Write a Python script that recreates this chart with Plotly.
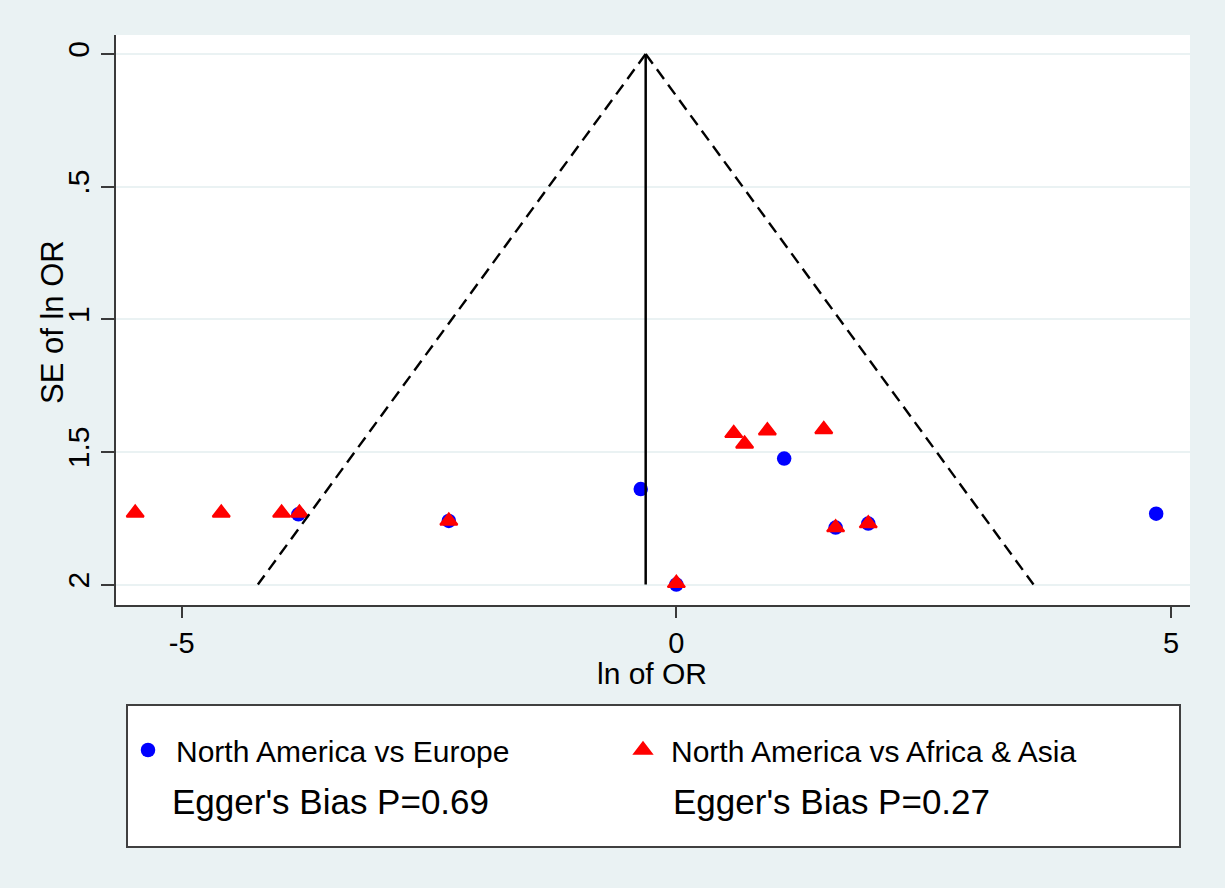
import plotly.graph_objects as go

# ---- data ----
europe_x = [-3.82, -2.30, -0.36, 0.00, 1.09, 1.61, 1.94, 4.85]
europe_se = [1.735, 1.76, 1.64, 2.00, 1.525, 1.785, 1.77, 1.733]

afas_x = [-5.47, -4.60, -3.99, -3.81, -2.30, 0.00, 0.58, 0.69, 0.92, 1.49, 1.61, 1.94]
afas_se = [1.73, 1.73, 1.73, 1.73, 1.76, 1.995, 1.43, 1.47, 1.42, 1.415, 1.785, 1.77]

pooled_x = [-0.31, -0.31]
pooled_se = [0.0, 2.0]
funnel_left_x = [-0.31, -4.23]
funnel_right_x = [-0.31, 3.61]
funnel_se = [0.0, 2.0]

x_tickvals = [-5, 0, 5]
x_ticktext = ["-5", "0", "5"]
y_tickvals = [0, 0.5, 1, 1.5, 2]
y_ticktext = ["0", ".5", "1", "1.5", "2"]

series_names = ["North America vs Europe", "North America vs Africa & Asia"]
egger_texts = ["Egger's Bias P=0.69", "Egger's Bias P=0.27"]

FONT = "Liberation Sans, Arial, sans-serif"
BG = "#EAF2F3"

fig = go.Figure()
fig.add_trace(go.Scatter(x=europe_x, y=europe_se, mode="markers", name=series_names[0],
                         marker=dict(symbol="circle", size=14.5, color="#0000FF")))
fig.add_trace(go.Scatter(x=afas_x, y=afas_se, mode="markers", name=series_names[1],
                         marker=dict(symbol="triangle-up", size=15, color="#FF0000",
                                     line=dict(color="#FF0000", width=2))))
for fx in (funnel_left_x, funnel_right_x):
    fig.add_trace(go.Scatter(x=fx, y=funnel_se, mode="lines", showlegend=False, hoverinfo="skip",
                             line=dict(color="black", width=2.4, dash="12px,7px")))
fig.add_trace(go.Scatter(x=pooled_x, y=pooled_se, mode="lines", showlegend=False, hoverinfo="skip",
                         line=dict(color="black", width=2.5)))

L, R, T, B = 116, 35, 35, 283
PW, PH = 1225 - L - R, 888 - T - B

def px(x):
    return (x - L) / PW

def py(y):
    return (888 - B - y) / PH

fig.update_layout(
    width=1225, height=888,
    margin=dict(l=L, r=R, t=T, b=B),
    paper_bgcolor=BG, plot_bgcolor="white",
    font=dict(family=FONT, color="black", size=29),
    xaxis=dict(range=[-5.664, 5.192], tickvals=x_tickvals, ticktext=x_ticktext,
               showgrid=False, zeroline=False, showline=True, linecolor="#3a3a3a", linewidth=1.5,
               ticks="outside", ticklen=11, tickwidth=1.5, tickcolor="#3a3a3a",
               tickfont=dict(size=29)),
    yaxis=dict(range=[2.077, -0.0716], tickvals=y_tickvals, ticktext=y_ticktext,
               showgrid=True, gridcolor=BG, gridwidth=2, zeroline=False,
               showline=True, linecolor="#3a3a3a", linewidth=1.5,
               ticks="outside", ticklen=13, tickwidth=1.5, tickcolor="#3a3a3a",
               tickangle=-90, tickfont=dict(size=30)),
    showlegend=True,
    legend=dict(orientation="h", x=px(120), xanchor="left", y=py(750), yanchor="middle",
                bgcolor="rgba(0,0,0,0)", borderwidth=0, itemwidth=46,
                entrywidth=434, entrywidthmode="pixels",
                font=dict(size=30, color="black"), traceorder="normal"),
    shapes=[dict(type="rect", xref="paper", yref="paper",
                 x0=px(127), x1=px(1180), y0=py(847), y1=py(705),
                 line=dict(color="#404040", width=2), fillcolor="white", layer="below")],
    annotations=[
        dict(text="ln of OR", xref="paper", yref="paper", x=px(652), y=py(673),
             xanchor="center", yanchor="middle", showarrow=False, font=dict(size=30)),
        dict(text="SE of ln OR", xref="paper", yref="paper", x=px(52), y=py(322),
             xanchor="center", yanchor="middle", showarrow=False, textangle=-90,
             font=dict(size=31)),
        dict(text=egger_texts[0], xref="paper", yref="paper", x=px(170), y=py(801),
             xanchor="left", yanchor="middle", showarrow=False, font=dict(size=35)),
        dict(text=egger_texts[1], xref="paper", yref="paper", x=px(671), y=py(801),
             xanchor="left", yanchor="middle", showarrow=False, font=dict(size=35)),
    ],
)

fig.write_html("out.html")
